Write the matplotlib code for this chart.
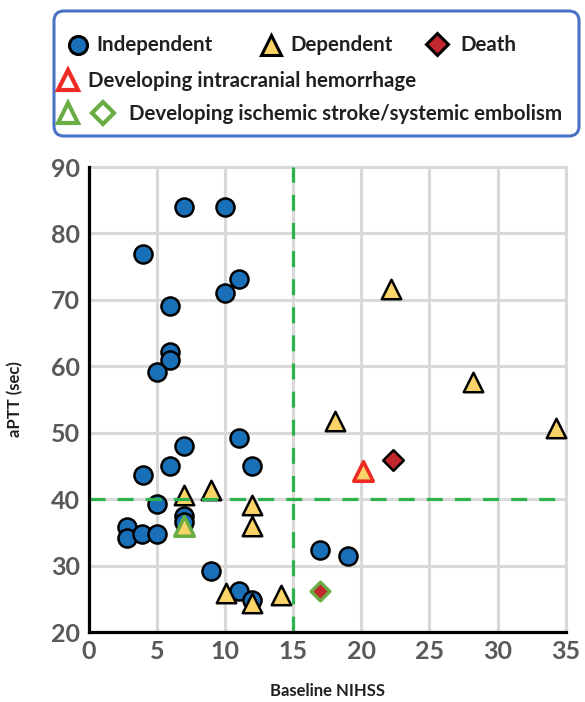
import matplotlib.pyplot as plt
from matplotlib.patches import FancyBboxPatch

plt.rcParams['font.family'] = ['Lato', 'DejaVu Sans']
plt.rcParams['font.weight'] = 'bold'

# Independent (circles)
indep_x = [7, 10, 4, 6, 11, 10, 6, 6, 5, 7, 11, 6, 12, 4, 5, 7, 7, 2.8, 2.8, 3.9, 5, 9, 11, 12, 17, 19]
indep_y = [84.0, 84.0, 76.9, 69.1, 73.2, 71.1, 62.2, 61.0, 59.2, 48.0, 49.2, 45.0, 45.0, 43.6,
           39.2, 37.4, 36.5, 35.8, 34.2, 34.7, 34.7, 29.2, 26.2, 24.8, 32.4, 31.4]
# Dependent (triangles)
dep_x = [7, 9, 12, 12, 10.1, 12, 14.1, 18.1, 22.2, 28.2, 34.3]
dep_y = [40.6, 41.4, 39.1, 35.9, 25.8, 24.4, 25.6, 51.8, 71.7, 57.7, 50.7]
# Death (diamonds)
death_x = [22.3]
death_y = [45.9]
# Dependent with intracranial hemorrhage
ich_x = [20.1]
ich_y = [44.3]
# Dependent / death with ischemic stroke or systemic embolism
stroke_dep_x = [7]
stroke_dep_y = [35.9]
stroke_death_x = [17.0]
stroke_death_y = [26.2]

blue = '#1a70b8'
yellow = '#fbd467'
darkred = '#c1272d'
red = '#ee2a24'
green = '#6aad45'
dash_green = '#2bb24c'
gray_txt = '#595959'

fig = plt.figure(figsize=(5.85, 7.02), dpi=100)
ax = fig.add_axes([88.7 / 585, 70 / 702, 477 / 585, 465 / 702])

ax.scatter(indep_x, indep_y, s=13 ** 2, marker='o', c=blue, edgecolors='black',
           linewidths=1.8, zorder=3, clip_on=False)
ax.scatter(dep_x, dep_y, s=14 ** 2, marker='^', c=yellow, edgecolors='black',
           linewidths=1.8, zorder=4, clip_on=False)
ax.scatter(death_x, death_y, s=10.5 ** 2, marker='D', c=darkred, edgecolors='black',
           linewidths=1.8, zorder=4, clip_on=False)
ax.scatter(ich_x, ich_y, s=14 ** 2, marker='^', c=yellow, edgecolors=red,
           linewidths=2.6, zorder=4, clip_on=False)
ax.scatter(stroke_dep_x, stroke_dep_y, s=14 ** 2, marker='^', c=yellow, edgecolors=green,
           linewidths=2.6, zorder=4, clip_on=False)
ax.scatter(stroke_death_x, stroke_death_y, s=9.5 ** 2, marker='D', c=darkred, edgecolors=green,
           linewidths=2.4, zorder=4, clip_on=False)

ax.axhline(40, color=dash_green, lw=2.3, dashes=(5, 3.8), zorder=5)
ax.axvline(15, color=dash_green, lw=2.3, dashes=(5, 3.8), zorder=5)

ax.set_xlim(0, 35)
ax.set_ylim(20, 90)
ax.set_xticks(range(0, 36, 5))
ax.set_yticks(range(20, 91, 10))
ax.grid(True, color='#d9d9d9', lw=2.2, zorder=0)
for gl in ax.get_xgridlines() + ax.get_ygridlines():
    gl.set_clip_on(False)
ax.set_axisbelow(True)
ax.tick_params(length=0, labelsize=18, labelcolor=gray_txt, pad=6)
for s in ['top', 'right']:
    ax.spines[s].set_visible(False)
for s in ['left', 'bottom']:
    ax.spines[s].set_linewidth(2.3)
    ax.spines[s].set_color('black')
    ax.spines[s].set_zorder(6)
ax.set_xlabel('Baseline NIHSS', fontsize=12, fontweight='bold', color='#231f20', labelpad=14)
ax.set_ylabel('aPTT (sec)', fontsize=12, fontweight='bold', color='#231f20', labelpad=20)

# legend box drawn in pixel coordinates
lg = fig.add_axes([0, 0, 1, 1], zorder=10)
lg.set_xlim(0, 585)
lg.set_ylim(702, 0)
lg.axis('off')
lg.add_patch(FancyBboxPatch((54, 11), 525, 125, boxstyle='round,pad=0,rounding_size=10',
                            fc='white', ec='#4a72c4', lw=2.2))
txt = dict(fontsize=14.8, color='#231f20', va='center', ha='left')
lg.plot([78], [45], 'o', ms=13, mfc=blue, mec='black', mew=2.2)
lg.text(96, 45, 'Independent', **txt)
lg.plot([271], [45], '^', ms=15, mfc=yellow, mec='black', mew=2.2)
lg.text(290, 45, 'Dependent', **txt)
lg.plot([437], [44], 'D', ms=11, mfc=darkred, mec='black', mew=2.2)
lg.text(460, 45, 'Death', **txt)
lg.plot([68], [80], '^', ms=15, mfc='white', mec=red, mew=3)
lg.text(88, 81, 'Developing intracranial hemorrhage', **txt)
lg.plot([68], [113], '^', ms=15, mfc='white', mec=green, mew=3)
lg.plot([103], [113], 'D', ms=11, mfc='white', mec=green, mew=3)
lg.text(129, 114, 'Developing ischemic stroke/systemic embolism', **txt)

fig.savefig('out.png', dpi=100)
